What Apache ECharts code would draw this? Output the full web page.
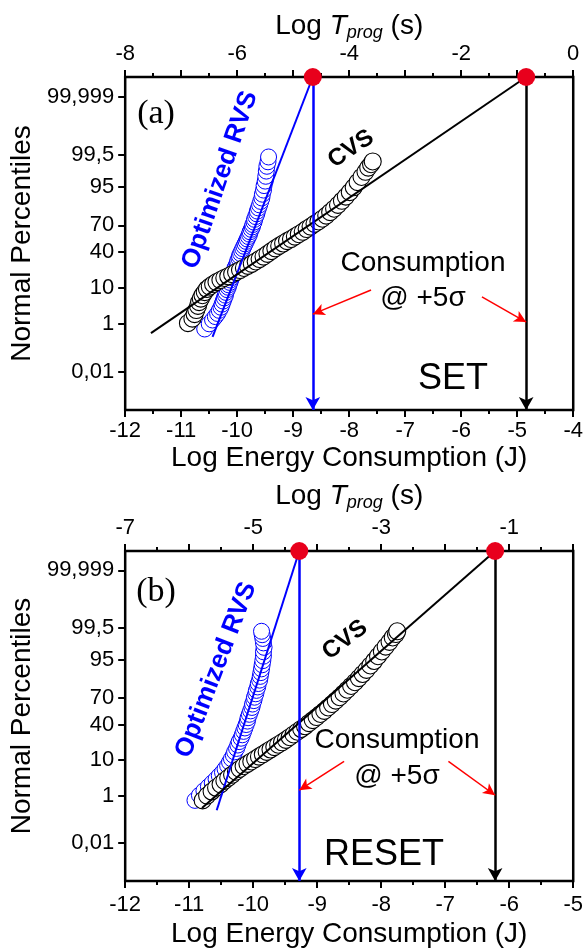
<!DOCTYPE html>
<html>
<head>
<meta charset="utf-8">
<script src="https://cdn.jsdelivr.net/npm/echarts@6/dist/echarts.min.js"></script>
<style>
html,body{margin:0;padding:0;background:#fff;}
#chart{width:586px;height:949px;}
</style>
</head>
<body>
<div id="chart"></div>
<script>
// ---------- data (log10 energy in J, normal quantile sigma) ----------
const pctTicks = [0.01, 1, 10, 40, 70, 95, 99.5, 99.999];
const pctLabels = ['0,01', '1', '10', '40', '70', '95', '99,5', '99,999'];
const topTicksA = [-8, -6, -4, -2, 0];
const topTicksB = [-7, -5, -3, -1];

// Panel (a) SET
const cvsA_logE = [-10.88,-10.80,-10.76,-10.73,-10.70,-10.68,-10.65,-10.62,-10.58,-10.54,-10.49,-10.43,-10.37,-10.30,-10.23,-10.16,-10.09,-10.02,-9.95,-9.88,-9.81,-9.74,-9.67,-9.60,-9.53,-9.46,-9.39,-9.32,-9.25,-9.18,-9.11,-9.04,-8.97,-8.90,-8.83,-8.76,-8.69,-8.62,-8.55,-8.48,-8.41,-8.34,-8.27,-8.20,-8.13,-8.06,-7.99,-7.92,-7.85,-7.78,-7.71,-7.66,-7.61,-7.58];
const cvsA_sigma = [-2.31,-2.18,-2.05,-1.93,-1.81,-1.70,-1.60,-1.50,-1.41,-1.32,-1.25,-1.18,-1.12,-1.06,-1.00,-0.95,-0.89,-0.83,-0.77,-0.71,-0.65,-0.59,-0.52,-0.45,-0.38,-0.30,-0.22,-0.14,-0.07,0.00,0.07,0.13,0.20,0.27,0.34,0.42,0.49,0.57,0.64,0.72,0.81,0.91,1.01,1.12,1.24,1.36,1.49,1.63,1.78,1.93,2.08,2.20,2.30,2.38];
const rvsA_logE = [-10.58,-10.50,-10.44,-10.39,-10.35,-10.32,-10.29,-10.27,-10.25,-10.23,-10.21,-10.20,-10.18,-10.16,-10.15,-10.13,-10.12,-10.10,-10.08,-10.07,-10.05,-10.04,-10.02,-10.00,-9.99,-9.97,-9.96,-9.94,-9.92,-9.90,-9.88,-9.86,-9.84,-9.82,-9.80,-9.78,-9.77,-9.75,-9.73,-9.72,-9.70,-9.69,-9.67,-9.65,-9.64,-9.62,-9.60,-9.58,-9.56,-9.55,-9.53,-9.52,-9.50,-9.49,-9.48,-9.47,-9.45,-9.44];
const rvsA_sigma = [-2.48,-2.33,-2.22,-2.12,-2.03,-1.94,-1.85,-1.76,-1.67,-1.58,-1.50,-1.42,-1.34,-1.27,-1.20,-1.13,-1.06,-0.99,-0.92,-0.85,-0.78,-0.71,-0.64,-0.57,-0.50,-0.43,-0.36,-0.29,-0.22,-0.15,-0.08,-0.01,0.06,0.13,0.20,0.27,0.34,0.41,0.48,0.55,0.62,0.70,0.78,0.86,0.94,1.03,1.12,1.22,1.32,1.43,1.55,1.68,1.81,1.95,2.10,2.24,2.37,2.51];
const fitA_cvs_logE = [-11.54, -4.84];
const fitA_cvs_sigma = [-2.60, 4.83];
const fitA_rvs_logE = [-10.44, -8.65];
const fitA_rvs_sigma = [-2.71, 4.83];
const arrowsA = [[-7.61, -1.35, -8.65, -2.05], [-5.63, -1.55, -4.84, -2.28]];

// Panel (b) RESET
const cvsB_logE = [-10.79,-10.72,-10.65,-10.58,-10.51,-10.45,-10.39,-10.33,-10.27,-10.21,-10.15,-10.09,-10.03,-9.97,-9.91,-9.85,-9.79,-9.73,-9.67,-9.61,-9.55,-9.49,-9.43,-9.37,-9.31,-9.25,-9.19,-9.13,-9.07,-9.01,-8.95,-8.89,-8.83,-8.77,-8.71,-8.65,-8.59,-8.53,-8.47,-8.41,-8.35,-8.29,-8.23,-8.17,-8.11,-8.05,-7.99,-7.93,-7.87,-7.82,-7.77,-7.75];
const cvsB_sigma = [-2.47,-2.33,-2.21,-2.10,-2.00,-1.90,-1.81,-1.72,-1.63,-1.55,-1.47,-1.40,-1.33,-1.26,-1.19,-1.12,-1.05,-0.98,-0.91,-0.84,-0.77,-0.70,-0.62,-0.54,-0.46,-0.38,-0.30,-0.21,-0.12,-0.03,0.06,0.15,0.25,0.35,0.45,0.55,0.66,0.77,0.88,0.99,1.11,1.23,1.35,1.48,1.61,1.75,1.89,2.03,2.17,2.30,2.40,2.48];
const rvsB_logE = [-10.91,-10.84,-10.77,-10.70,-10.64,-10.58,-10.53,-10.48,-10.44,-10.40,-10.37,-10.34,-10.31,-10.29,-10.26,-10.24,-10.22,-10.19,-10.17,-10.15,-10.13,-10.11,-10.09,-10.08,-10.06,-10.04,-10.02,-10.01,-9.99,-9.98,-9.96,-9.95,-9.93,-9.92,-9.90,-9.89,-9.88,-9.87,-9.86,-9.85,-9.84,-9.84,-9.83,-9.84,-9.85,-9.86,-9.87];
const rvsB_sigma = [-2.47,-2.32,-2.19,-2.07,-1.96,-1.85,-1.75,-1.65,-1.55,-1.45,-1.35,-1.25,-1.15,-1.05,-0.95,-0.85,-0.75,-0.65,-0.55,-0.45,-0.35,-0.25,-0.15,-0.05,0.05,0.15,0.25,0.35,0.45,0.55,0.65,0.75,0.85,0.95,1.05,1.16,1.27,1.38,1.50,1.62,1.75,1.88,2.01,2.14,2.27,2.38,2.48];
const fitB_cvs_logE = [-10.80, -6.22];
const fitB_cvs_sigma = [-2.69, 4.83];
const fitB_rvs_logE = [-10.57, -9.28];
const fitB_rvs_sigma = [-2.76, 4.83];
const arrowsB = [[-8.58, -1.33, -9.28, -2.17], [-6.95, -1.33, -6.22, -2.32]];

// +5 sigma consumption points (plotted on the upper frame)
const sigmaTop = 4.83;
const sigmaBottom = -4.83;
const dotsA_logE = [-8.65, -4.84];
const dotsB_logE = [-9.28, -6.22];

// ---------- helpers ----------
function probit(p) {
  const a = [-3.969683028665376e+01, 2.209460984245205e+02, -2.759285104469687e+02, 1.383577518672690e+02, -3.066479806614716e+01, 2.506628277459239e+00];
  const b = [-5.447609879822406e+01, 1.615858368580409e+02, -1.556989798598866e+02, 6.680131188771972e+01, -1.328068155288572e+01];
  const c = [-7.784894002430293e-03, -3.223964580411365e-01, -2.400758277161838e+00, -2.549671010243288e+00, 4.374664141464968e+00, 2.938163982698783e+00];
  const d = [7.784695709041462e-03, 3.224671290700398e-01, 2.445134137142996e+00, 3.754408661907416e+00];
  const pl = 0.02425, ph = 1 - pl;
  let q, r;
  if (p < pl) { q = Math.sqrt(-2 * Math.log(p)); return (((((c[0]*q+c[1])*q+c[2])*q+c[3])*q+c[4])*q+c[5]) / ((((d[0]*q+d[1])*q+d[2])*q+d[3])*q+1); }
  if (p <= ph) { q = p - 0.5; r = q*q; return (((((a[0]*r+a[1])*r+a[2])*r+a[3])*r+a[4])*r+a[5])*q / (((((b[0]*r+b[1])*r+b[2])*r+b[3])*r+b[4])*r+1); }
  q = Math.sqrt(-2 * Math.log(1 - p)); return -(((((c[0]*q+c[1])*q+c[2])*q+c[3])*q+c[4])*q+c[5]) / ((((d[0]*q+d[1])*q+d[2])*q+d[3])*q+1);
}
const tickSigma = pctTicks.map(p => probit(p / 100));
const zip = (xs, ys) => xs.map((x, i) => [x, ys[i]]);

const FONT = "'Liberation Sans', Arial, sans-serif";
const BLUE = '#0000ff';
const RED = '#e8001c';

function yAxisFor(gi) {
  return {
    gridIndex: gi, type: 'value', min: sigmaBottom, max: sigmaTop,
    name: 'Normal Percentiles', nameLocation: 'middle', nameGap: 82,
    nameTextStyle: { fontFamily: FONT, fontSize: 28, color: '#000' },
    axisLine: { show: false, onZero: false },
    splitLine: { show: false },
    axisTick: { show: true, customValues: tickSigma, length: 7, lineStyle: { color: '#000', width: 2 } },
    axisLabel: {
      customValues: tickSigma, margin: 11, fontFamily: FONT, fontSize: 22, color: '#000',
      formatter: v => { let best = 0; tickSigma.forEach((t, i) => { if (Math.abs(t - v) < Math.abs(tickSigma[best] - v)) best = i; }); return pctLabels[best]; }
    }
  };
}
function xBottom(gi, min, max, gap, margin) {
  return {
    gridIndex: gi, type: 'value', position: 'bottom', min: min, max: max, interval: 1,
    name: 'Log Energy Consumption (J)', nameLocation: 'middle', nameGap: gap,
    nameTextStyle: { fontFamily: FONT, fontSize: 28, color: '#000' },
    axisLine: { show: false, onZero: false }, splitLine: { show: false },
    axisTick: { show: true, length: 7, lineStyle: { color: '#000', width: 2 } },
    minorTick: { show: true, splitNumber: 2, length: 4, lineStyle: { color: '#000', width: 2 } },
    axisLabel: { margin: margin, fontFamily: FONT, fontSize: 22, color: '#000', showMinLabel: true, showMaxLabel: true }
  };
}
function xTop(gi, min, max, gap, labels) {
  return {
    gridIndex: gi, type: 'value', position: 'top', min: min, max: max, interval: 1,
    name: '{n|Log }{i|T}{s|prog}{n| (s)}', nameLocation: 'middle', nameGap: gap,
    nameTextStyle: {
      fontFamily: FONT, fontSize: 28, color: '#000',
      rich: {
        n: { fontFamily: FONT, fontSize: 28, color: '#000' },
        i: { fontFamily: FONT, fontSize: 28, fontStyle: 'italic', color: '#000' },
        s: { fontFamily: FONT, fontSize: 18, fontStyle: 'italic', color: '#000', padding: [14, 0, 0, 0] }
      }
    },
    axisLine: { show: false, onZero: false }, splitLine: { show: false },
    axisTick: { show: true, length: 7, lineStyle: { color: '#000', width: 2 } },
    minorTick: { show: true, splitNumber: 2, length: 4, lineStyle: { color: '#000', width: 2 } },
    axisLabel: { customValues: labels, margin: 12, fontFamily: FONT, fontSize: 22, color: '#000' }
  };
}

function panelSeries(gi, cvsX, cvsY, rvsX, rvsY, fcX, fcY, frX, frY, dotsX, arrows) {
  const xi = gi * 2;
  const verticals = [
    { x: dotsX[0], color: BLUE },
    { x: dotsX[1], color: '#000' }
  ];
  return [
    { type: 'scatter', xAxisIndex: xi, yAxisIndex: gi, data: zip(rvsX, rvsY), symbol: 'circle', symbolSize: 16,
      itemStyle: { color: '#fff', borderColor: BLUE, borderWidth: 1, opacity: 1 }, z: 2, silent: true },
    { type: 'scatter', xAxisIndex: xi, yAxisIndex: gi, data: zip(cvsX, cvsY), symbol: 'circle', symbolSize: 17,
      itemStyle: { color: '#fff', borderColor: '#000', borderWidth: 1.1, opacity: 1 }, z: 3, silent: true },
    { type: 'line', xAxisIndex: xi, yAxisIndex: gi, data: zip(frX, frY), showSymbol: false, symbol: 'none',
      lineStyle: { color: BLUE, width: 2 }, z: 4, clip: false, silent: true },
    { type: 'line', xAxisIndex: xi, yAxisIndex: gi, data: zip(fcX, fcY), showSymbol: false, symbol: 'none',
      lineStyle: { color: '#000', width: 2 }, z: 4, clip: false, silent: true,
      markLine: {
        silent: true, symbol: ['none', 'arrow'], precision: 4, animation: false, label: { show: false },
        data: verticals.map(v => [
          { coord: [v.x, sigmaTop], lineStyle: { color: v.color, width: 2.5, type: 'solid' }, symbolSize: [11, 13], itemStyle: { color: v.color } },
          { coord: [v.x, sigmaBottom], symbolSize: [11, 13], itemStyle: { color: v.color } }
        ]).concat(arrows.map(a => [
          { coord: [a[0], a[1]], lineStyle: { color: '#ff0000', width: 1.5, type: 'solid' }, symbolSize: [9, 12], itemStyle: { color: '#ff0000' } },
          { coord: [a[2], a[3]], symbolSize: [9, 12], itemStyle: { color: '#ff0000' } }
        ]))
      }
    },
    { type: 'scatter', xAxisIndex: xi, yAxisIndex: gi, data: dotsX.map(x => [x, sigmaTop]), symbol: 'circle', symbolSize: 18,
      itemStyle: { color: RED, opacity: 1 }, z: 6, clip: false, silent: true }
  ];
}

const chart = echarts.init(document.getElementById('chart'), null, { renderer: 'canvas', width: 586, height: 949 });

const txt = (x, y, text, font, color, rotDeg) => ({
  type: 'text', x: x, y: y, rotation: (rotDeg || 0) * Math.PI / 180, silent: true, z: 100,
  style: { text: text, font: font, fill: color, align: 'center', verticalAlign: 'middle' }
});

chart.setOption({
  animation: false,
  backgroundColor: '#fff',
  grid: [
    { left: 119, top: 77, width: 457, height: 333, show: true, borderColor: '#000', borderWidth: 2.5, backgroundColor: 'transparent' },
    { left: 119, top: 551, width: 456, height: 332, show: true, borderColor: '#000', borderWidth: 2.5, backgroundColor: 'transparent' }
  ],
  xAxis: [
    xBottom(0, -12, -4, 34, 10), xTop(0, -8, 0, 34, topTicksA),
    xBottom(1, -12, -5, 39, 13), xTop(1, -7, 0, 39, topTicksB)
  ],
  yAxis: [yAxisFor(0), yAxisFor(1)],
  series: [].concat(
    panelSeries(0, cvsA_logE, cvsA_sigma, rvsA_logE, rvsA_sigma, fitA_cvs_logE, fitA_cvs_sigma, fitA_rvs_logE, fitA_rvs_sigma, dotsA_logE, arrowsA),
    panelSeries(1, cvsB_logE, cvsB_sigma, rvsB_logE, rvsB_sigma, fitB_cvs_logE, fitB_cvs_sigma, fitB_rvs_logE, fitB_rvs_sigma, dotsB_logE, arrowsB)
  ),
  graphic: [
    txt(156, 114, '(a)', "34px 'Liberation Serif', serif", '#000'),
    txt(220, 180, 'Optimized RVS', "bold 26px " + FONT, BLUE, 71),
    txt(351, 149, 'CVS', "bold 24px " + FONT, '#000', 34),
    txt(423, 263, 'Consumption', "28px " + FONT, '#000'),
    txt(423, 298, '@ +5σ', "28px " + FONT, '#000'),
    txt(453, 379, 'SET', "36px " + FONT, '#000'),
    txt(156, 592, '(b)', "34px 'Liberation Serif', serif", '#000'),
    txt(216, 670, 'Optimized RVS', "bold 26px " + FONT, BLUE, 69),
    txt(345, 640, 'CVS', "bold 24px " + FONT, '#000', 37),
    txt(397, 740, 'Consumption', "28px " + FONT, '#000'),
    txt(397, 776, '@ +5σ', "28px " + FONT, '#000'),
    txt(384, 855, 'RESET', "36px " + FONT, '#000')
  ]
});
</script>
</body>
</html>
